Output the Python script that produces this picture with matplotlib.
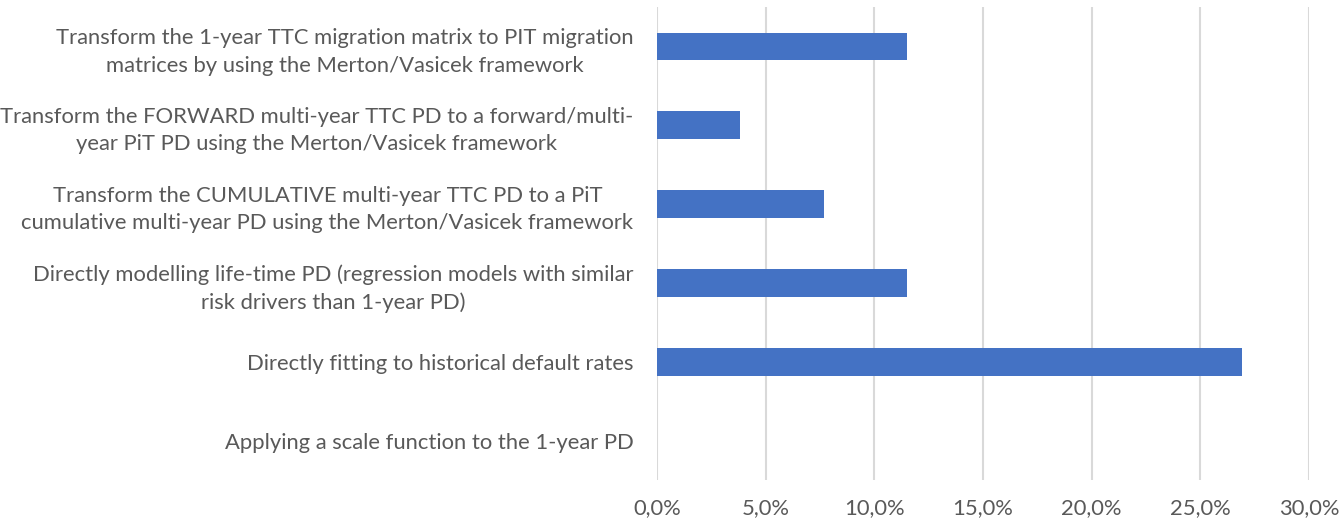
import numpy as np
import matplotlib.pyplot as plt
from matplotlib.ticker import FuncFormatter

# survey answers, top to bottom as in the chart
labels = [
    "Transform the 1-year TTC migration matrix to PIT migration\nmatrices by using the Merton/Vasicek framework",
    "Transform the FORWARD multi-year TTC PD to a forward/multi-\nyear PiT PD using the Merton/Vasicek framework",
    "Transform the CUMULATIVE multi-year TTC PD to a PiT\ncumulative multi-year PD using the Merton/Vasicek framework",
    "Directly modelling life-time PD (regression models with similar\nrisk drivers than 1-year PD)",
    "Directly fitting to historical default rates",
    "Applying a scale function to the 1-year PD",
]
shares = [11.5, 3.8, 7.7, 11.5, 26.9, 0.0]
xticks = [0, 5, 10, 15, 20, 25, 30]

text_col = '#595959'
plt.rcParams['font.family'] = ['Lato', 'DejaVu Sans']

fig = plt.figure(figsize=(13.41, 5.22), dpi=100)
ax = fig.add_axes([657 / 1341, 1 - 480 / 522, (1309 - 657) / 1341, (480 - 7) / 522])

y = np.arange(len(labels))
ax.barh(y, shares, height=0.35, color='#4472c4', zorder=3)
ax.set_ylim(len(labels) - 0.5, -0.5)
ax.set_xlim(0, 30)
ax.set_xticks(xticks)
ax.xaxis.set_major_formatter(FuncFormatter(lambda v, p: f"{v:.1f}%".replace('.', ',')))
ax.set_yticks(y)
ax.set_yticklabels(labels, multialignment='center', linespacing=1.45)

ax.grid(axis='x', color='#d9d9d9', linewidth=1.5, zorder=0)
for s in ax.spines.values():
    s.set_visible(False)
ax.tick_params(axis='both', length=0, labelsize=15.8, colors=text_col)
ax.tick_params(axis='y', pad=17)
ax.tick_params(axis='x', pad=13)

fig.savefig('out.png', dpi=100)
